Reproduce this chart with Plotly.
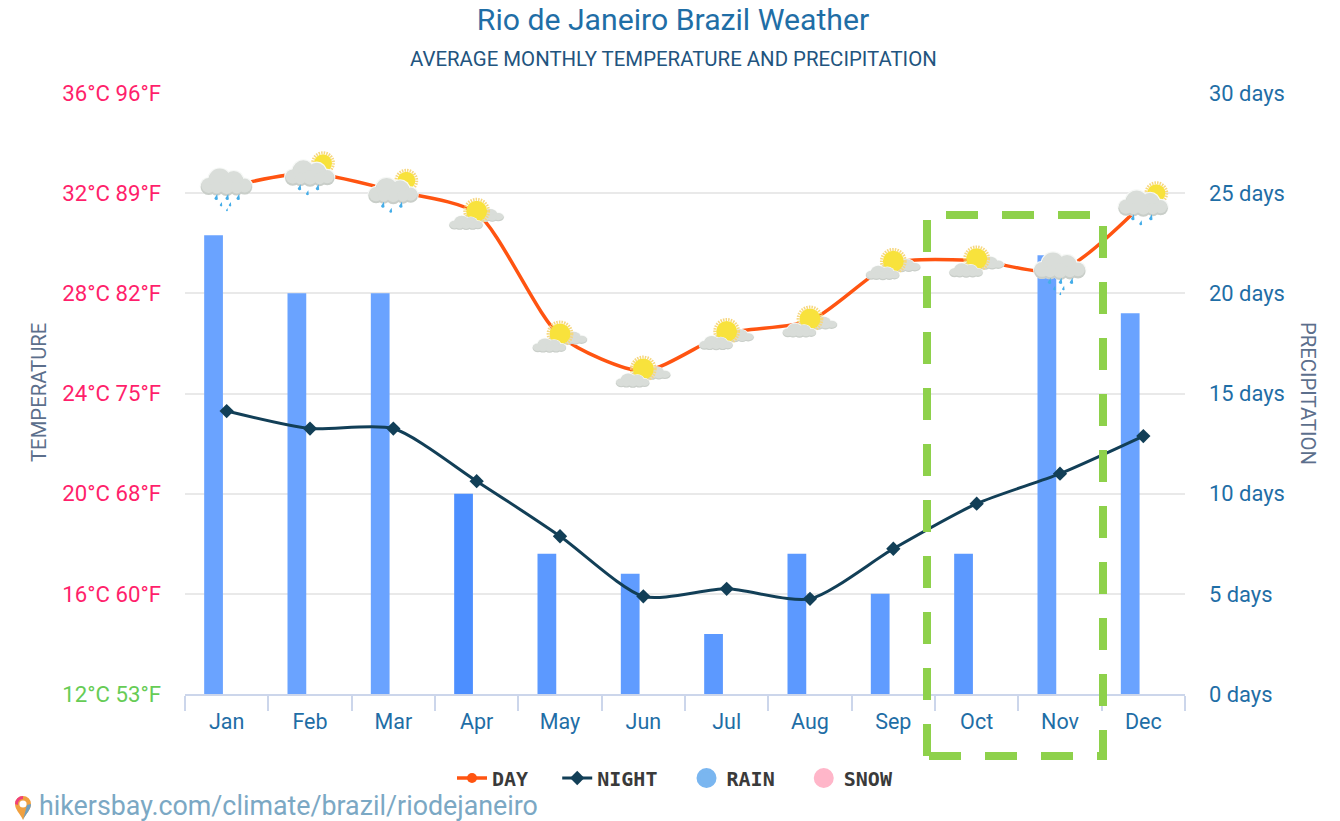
import base64
import plotly.graph_objects as go

months = ["Jan", "Feb", "Mar", "Apr", "May", "Jun", "Jul", "Aug", "Sep", "Oct", "Nov", "Dec"]
day_temp = [32.25, 32.8, 32.1, 31.2, 26.3, 24.9, 26.4, 26.9, 29.2, 29.3, 28.9, 31.6]
night_temp = [23.3, 22.6, 22.6, 20.5, 18.3, 15.9, 16.2, 15.8, 17.8, 19.6, 20.8, 22.3]
rain_days = [22.9, 20, 20, 10, 7, 6, 3, 7, 5, 7, 21.9, 19]
rain_colors = ["#6aa3ff", "#6aa3ff", "#6aa3ff", "#4d8fff", "#5c99ff", "#609cff",
               "#5c99ff", "#5c99ff", "#609cff", "#5c99ff", "#6aa3ff", "#6aa3ff"]
weather = ["rain", "sunrain", "sunrain", "partly", "partly", "partly",
           "partly", "partly", "partly", "partly", "rain", "sunrain"]
temp_ticks = [12, 16, 20, 24, 28, 32, 36]
temp_labels = ['<span style="color:#66cc55">12°C 53°F</span>', "16°C 60°F", "20°C 68°F",
               "24°C 75°F", "28°C 82°F", "32°C 89°F", "36°C 96°F"]
rain_ticks = [0, 5, 10, 15, 20, 25, 30]
rain_labels = ["0 days", "5 days", "10 days", "15 days", "20 days", "25 days", "30 days"]

W, H = 1340, 821
L, R, T, B = 185, 1185, 93, 694
BLUE = "#1f6ea6"


def uri(body, vb="0 0 60 50"):
    svg = f'<svg xmlns="http://www.w3.org/2000/svg" viewBox="{vb}">{body}</svg>'
    return "data:image/svg+xml;base64," + base64.b64encode(svg.encode()).decode()


def cloud(dx, dy, sx=1.0, sy=None):
    sy = sx if sy is None else sy
    parts = [(-18, 4, 8), (-7, -2, 11.5), (7, -1, 10), (18, 4, 7.5), (0, 5, 8), (-10, 6, 6.5), (10, 6, 6.5)]
    out = f'<g transform="translate({dx} {dy}) scale({sx} {sy})">'
    for cx, cy, r in parts:
        out += f'<circle cx="{cx}" cy="{cy}" r="{r + 1}" fill="#f6f8f6"/>'
    for cx, cy, r in parts:
        out += f'<circle cx="{cx}" cy="{cy+1.2}" r="{r}" fill="#c9cec9"/>'
    for cx, cy, r in parts:
        out += f'<circle cx="{cx}" cy="{cy-0.4}" r="{r-0.6}" fill="#d9ddd9"/>'
    return out + "</g>"


def sun(cx, cy, r):
    rays = f'<circle cx="{cx}" cy="{cy}" r="{r+1.4}" fill="none" stroke="#f6d780" stroke-width="3" stroke-dasharray="1.5 1.1"/>'
    return rays + f'<circle cx="{cx}" cy="{cy}" r="{r}" fill="#f8e23c"/>'


def drops(points):
    out = ""
    for x, y, s in points:
        out += f'<path d="M{x+1.4*s} {y} l{-2.6*s} {4*s} a{1.8*s} {1.8*s} 0 0 0 {3.2*s} {0.9*s} z" fill="#45ade8"/>'
    return out


ICONS = {
    "rain": uri(cloud(30, 20) + drops([(19, 32, 1.1), (30, 32, 1.1), (41, 32, 1.1), (24, 40, .8), (33, 40, .8), (30, 46, .6)])),
    "sunrain": uri(sun(43, 15, 9) + cloud(30, 25, 0.96) + drops([(19, 36, 1.1), (37, 36, 1.1), (27, 42, .9)])),
    "partly": uri(cloud(38, 26.5, 0.75, 0.52) + sun(30, 23, 10.5) + cloud(19.5, 34.5, 0.65, 0.52)),
}
PIN = uri('<path d="M9 1 a8 8 0 0 1 8 8 c0 6 -5 9 -8 16 c-3 -7 -8 -10 -8 -16 a8 8 0 0 1 8 -8 z" fill="#f0a040"/>'
          '<path d="M9 1 a8 8 0 0 0 -8 8 l3 1 a5 5 0 0 1 5 -6 z" fill="#f0407a"/>'
          '<path d="M9 25 c3 -7 8 -10 8 -16 l-4 1 z" fill="#6f9fc0"/>'
          '<circle cx="9" cy="9" r="3.6" fill="#fff"/>', "0 0 18 26")

fig = go.Figure()
fig.add_trace(go.Bar(x=months, y=rain_days, name="RAIN", yaxis="y", showlegend=False,
                     width=0.225, offset=-0.27, marker=dict(color=rain_colors, line=dict(width=0))))
fig.add_trace(go.Scatter(x=months, y=day_temp, name="DAY\u00a0\u00a0", yaxis="y2", mode="lines+markers",
                         line=dict(color="#ff5411", width=3.5, shape="spline", smoothing=0.7),
                         marker=dict(color="#ff5411", size=10, symbol="circle")))
fig.add_trace(go.Scatter(x=months, y=night_temp, name="NIGHT\u00a0\u00a0", yaxis="y2", mode="lines+markers",
                         line=dict(color="#123f57", width=3, shape="spline", smoothing=0.7),
                         marker=dict(color="#123f57", size=11, symbol="diamond")))
fig.add_trace(go.Scatter(x=[None], y=[None], name="RAIN\u00a0\u00a0", yaxis="y", mode="markers",
                         marker=dict(color="#7ab6f0", size=16, line=dict(color="#7ab6f0", width=4))))
fig.add_trace(go.Scatter(x=[None], y=[None], name="SNOW", yaxis="y", mode="markers",
                         marker=dict(color="#ffb6c9", size=16, line=dict(color="#ffb6c9", width=4))))

images = [dict(source=ICONS[w], xref="x", yref="y2", x=m, y=t, sizex=60 / 83.33, sizey=50 / 25.04,
               xanchor="center", yanchor="middle", sizing="stretch", layer="above")
          for m, t, w in zip(months, day_temp, weather)]
images.append(dict(source=PIN, xref="paper", yref="paper", x=(14 - L) / (R - L), y=(B - 795) / (B - T),
                   sizex=18 / (R - L), sizey=26 / (B - T), xanchor="left", yanchor="top", sizing="stretch", layer="above"))


def px(x):
    return (x - L) / (R - L)


def py(y):
    return (B - y) / (B - T)


x0, x1, y0, y1 = px(927), px(1103), py(756), py(215)
fig.add_shape(type="path", xref="paper", yref="paper",
              path=f"M {x0} {y0} L {x0} {y1} L {x1} {y1} L {x1} {y0} Z",
              line=dict(color="#8ed14b", width=8, dash="32px,24px"), layer="above")


def note(text, x, y, size, color, anchor="center", angle=0):
    fig.add_annotation(text=text, xref="paper", yref="paper", x=px(x), y=py(y), xanchor=anchor, yanchor="middle",
                       showarrow=False, textangle=angle, font=dict(family="Roboto", size=size, color=color))


note("AVERAGE MONTHLY TEMPERATURE AND PRECIPITATION", 673, 59, 20.4, "#22547e")
note("hikersbay.com/climate/brazil/riodejaneiro", 37, 806, 26.8, "#7ba8c4", anchor="left")
note("TEMPERATURE", 39, 393, 20.3, "#5c6f8c", angle=-90)
note("PRECIPITATION", 1308, 393, 20.3, "#5c6f8c", angle=90)

fig.update_layout(
    width=W, height=H, margin=dict(l=L, r=W - R, t=T, b=H - B, autoexpand=False),
    paper_bgcolor="white", plot_bgcolor="white", images=images,
    font=dict(family="Roboto"), barmode="overlay",
    title=dict(text="Rio de Janeiro Brazil Weather", x=673 / W, xanchor="center", y=1 - 19 / H, yanchor="middle",
               font=dict(family="Roboto", size=30.2, color=BLUE)),
    xaxis=dict(type="category", categoryorder="array", categoryarray=months, range=[-0.5, 11.5],
               tickson="boundaries", ticks="outside", ticklen=15, tickwidth=1.5, tickcolor="#ccd6eb",
               showline=True, linecolor="#ccd6eb", linewidth=2, showgrid=False, ticklabelstandoff=7,
               tickfont=dict(family="Roboto", size=21.5, color=BLUE)),
    yaxis=dict(side="right", range=[0, 30], tickmode="array", tickvals=rain_ticks, ticktext=rain_labels,
               showgrid=True, gridcolor="#e9e9e9", gridwidth=2, zeroline=False, ticks="", ticklabelstandoff=23,
               tickfont=dict(family="Roboto", size=21.9, color=BLUE)),
    yaxis2=dict(side="left", overlaying="y", range=[12, 36], tickmode="array", tickvals=temp_ticks,
                ticktext=temp_labels, showgrid=False, zeroline=False, ticks="", ticklabelstandoff=23,
                tickfont=dict(family="Roboto", size=22.2, color="#ff1f6b")),
    legend=dict(orientation="h", x=px(675), xanchor="center", y=py(778), yanchor="middle",
                font=dict(family="DejaVu Sans Mono", size=20, color="#3a3a3a", weight="bold"),
                traceorder="normal", bgcolor="rgba(0,0,0,0)"),
)
fig.write_html("out.html", post_script="document.body.style.margin='0';", config={"displayModeBar": False})
